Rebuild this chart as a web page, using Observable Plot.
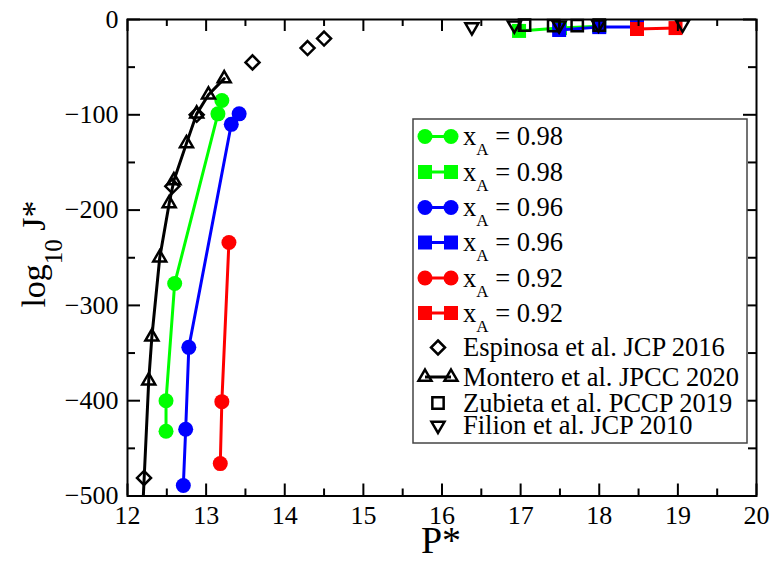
<!DOCTYPE html>
<html><head><meta charset="utf-8">
<script src="https://cdn.jsdelivr.net/npm/d3@7"></script>
<script src="https://cdn.jsdelivr.net/npm/@observablehq/plot@0.6"></script>
<style>body{margin:0;background:#fff} svg text, svg tspan{font-family:"Liberation Serif","Times New Roman",serif !important;}</style>
</head><body><div id="chart"></div>
<script>
// ---- data ----
const g98cP = [12.49, 12.49, 12.60, 13.15, 13.20];
const g98cJ = [-432, -400, -277, -99, -85];
const g98sP = [16.98, 17.50, 18.00];
const g98sJ = [-12, -9, -7];
const b96cP = [12.71, 12.74, 12.78, 13.32, 13.42];
const b96cJ = [-489, -430, -344, -110, -99];
const b96sP = [17.49, 18.00, 18.48];
const b96sJ = [-11, -8, -8];
const r92cP = [13.18, 13.20, 13.29];
const r92cJ = [-466, -401, -234];
const r92sP = [18.48, 18.97];
const r92sJ = [-10, -9];
const espP = [12.21, 12.57, 12.88, 13.59, 14.29, 14.50];
const espJ = [-481, -175, -100, -45, -30, -20];
const monP = [12.19, 12.27, 12.31, 12.41, 12.53, 12.59, 12.75, 12.88, 13.03, 13.23];
const monJ = [-520, -379, -333, -250, -193, -169, -130, -99, -79, -62];
const zubP = [17.05, 17.42, 17.72, 18.00];
const zubJ = [-6, -6.5, -6.5, -6];
const filP = [16.38, 16.92, 17.49, 17.99, 19.06];
const filJ = [-8, -6, -6, -5, -5];

const xMajor = [12, 13, 14, 15, 16, 17, 18, 19, 20];
const xMinor = [12.5, 13.5, 14.5, 15.5, 16.5, 17.5, 18.5, 19.5];
const yMajor = [0, -100, -200, -300, -400, -500];
const yMinor = [-50, -150, -250, -350, -450];

const legendLabels = ["0.98", "0.98", "0.96", "0.96", "0.92", "0.92"];
const refLabels = ["Espinosa et al. JCP 2016", "Montero et al. JPCC 2020", "Zubieta et al. PCCP 2019", "Filion et al. JCP 2010"];

// ---- helpers ----
const zip = (P, J) => P.map((p, i) => ({P: p, J: J[i]}));
const GREEN = "#00ff00", BLUE = "#0000ff", RED = "#ff0000";
const triDown = {draw(ctx, size) {
  const s = Math.sqrt(size) * 0.6824, t = s / 2, u = s * Math.sqrt(3) / 2;
  ctx.moveTo(0, s); ctx.lineTo(u, -t); ctx.lineTo(-u, -t); ctx.closePath();
}};

const W = 773, H = 561, ml = 127, mr = 17, mt = 19, mb = 65.5;
const fw = W - ml - mr, fh = H - mt - mb;
const FONT = "Liberation Serif, Times New Roman, serif";

const rC = 7.5, rS = 7.9, rD = 6.3, rT = 6.2, rO = 7.2;

function series(P, J, color, symbol, r, clip) {
  const d = zip(P, J);
  return [
    Plot.line(d, {x: "P", y: "J", stroke: color, strokeWidth: 3, clip}),
    Plot.dot(d, {x: "P", y: "J", fill: color, symbol, r, clip})
  ];
}

const chart = Plot.plot({
  width: W, height: H,
  marginLeft: ml, marginRight: mr, marginTop: mt, marginBottom: mb,
  style: {fontFamily: FONT, background: "#fff", overflow: "visible"},
  x: {domain: [12, 20]},
  y: {domain: [-500, 0]},
  marks: [
    ...series(g98cP, g98cJ, GREEN, "circle", rC),
    ...series(g98sP, g98sJ, GREEN, "square", rS),
    ...series(b96cP, b96cJ, BLUE, "circle", rC),
    ...series(b96sP, b96sJ, BLUE, "square", rS),
    ...series(r92cP, r92cJ, RED, "circle", rC),
    ...series(r92sP, r92sJ, RED, "square", rS),
    Plot.dot(zip(espP, espJ), {x: "P", y: "J", symbol: "diamond2", r: rD, stroke: "#000", strokeWidth: 2.5, fill: "none"}),
    Plot.line(zip(monP, monJ), {x: "P", y: "J", stroke: "#000", strokeWidth: 3, clip: true}),
    Plot.dot(zip(monP, monJ), {x: "P", y: "J", symbol: "triangle2", r: rT, stroke: "#000", strokeWidth: 2.5, fill: "none", clip: true}),
    Plot.dot(zip(zubP, zubJ), {x: "P", y: "J", symbol: "square2", r: rO, stroke: "#000", strokeWidth: 2.5, fill: "none"}),
    Plot.dot(zip(filP, filJ), {x: "P", y: "J", symbol: triDown, r: rT, stroke: "#000", strokeWidth: 2.5, fill: "none"}),
    // ticks (inward)
    Plot.tickX(xMajor, {x: d => d, insetTop: fh - 12, strokeWidth: 2}),
    Plot.tickX(xMajor, {x: d => d, insetBottom: fh - 12, strokeWidth: 2}),
    Plot.tickX(xMinor, {x: d => d, insetTop: fh - 7, strokeWidth: 2}),
    Plot.tickX(xMinor, {x: d => d, insetBottom: fh - 7, strokeWidth: 2}),
    Plot.tickY(yMajor, {y: d => d, insetRight: fw - 13, strokeWidth: 2}),
    Plot.tickY(yMajor, {y: d => d, insetLeft: fw - 13, strokeWidth: 2}),
    Plot.tickY(yMinor, {y: d => d, insetRight: fw - 8, strokeWidth: 2}),
    Plot.tickY(yMinor, {y: d => d, insetLeft: fw - 8, strokeWidth: 2}),
    Plot.axisX(xMajor, {tickSize: 0, tickPadding: 10, fontSize: 26, label: null, fill: "#000"}),
    Plot.axisY(yMajor, {tickSize: 0, tickPadding: 9, fontSize: 26, label: null, fill: "#000"}),
    Plot.frame({stroke: "#000", strokeWidth: 2})
  ]
});

document.getElementById("chart").appendChild(chart);

const svg = d3.select(chart);

// ---- axis titles and legend ----
svg.append("text").attr("x", 441).attr("y", 553).attr("text-anchor", "middle")
  .attr("font-size", 38).text("P*");
const yl = svg.append("text").attr("transform", "translate(45,254) rotate(-90)")
  .attr("text-anchor", "middle").attr("font-size", 34);
yl.append("tspan").text("log");
yl.append("tspan").attr("font-size", 25).attr("dy", 17).text("10");
yl.append("tspan").attr("dy", -17).text(" J*");

const lg = svg.append("g").attr("text-anchor", "start");
lg.append("rect").attr("x", 413).attr("y", 119).attr("width", 334).attr("height", 324)
  .attr("fill", "#fff").attr("stroke", "#444").attr("stroke-width", 1.5);

const rowY = [136.5, 172, 207.5, 242.5, 278, 313];
const rowColors = [GREEN, GREEN, BLUE, BLUE, RED, RED];
const rowSym = ["circle", "square", "circle", "square", "circle", "square"];
const symSize = r => Math.PI * r * r;
legendLabels.forEach((lab, i) => {
  const y = rowY[i], c = rowColors[i];
  const t = rowSym[i] === "circle" ? d3.symbolCircle : d3.symbolSquare;
  const r = rowSym[i] === "circle" ? rC : rS;
  lg.append("line").attr("x1", 425).attr("x2", 451).attr("y1", y).attr("y2", y).attr("stroke", c).attr("stroke-width", 3);
  [425, 451].forEach(x => lg.append("path").attr("d", d3.symbol(t, symSize(r))()).attr("transform", `translate(${x},${y})`).attr("fill", c));
  const tx = lg.append("text").attr("x", 463).attr("y", y + 8.5).attr("font-size", 26.5).attr("text-anchor", "start");
  tx.append("tspan").text("x");
  tx.append("tspan").attr("font-size", 17).attr("dy", 10).text("A");
  tx.append("tspan").attr("dy", -10).text(" = " + lab);
});

const refY = [347.5, 377, 403, 425.5];
// Espinosa
lg.append("path").attr("d", d3.symbol(d3.symbolDiamond2, symSize(rD))()).attr("transform", `translate(438,${refY[0]})`)
  .attr("fill", "none").attr("stroke", "#000").attr("stroke-width", 2.5);
// Montero
lg.append("line").attr("x1", 425).attr("x2", 451).attr("y1", refY[1]).attr("y2", refY[1]).attr("stroke", "#000").attr("stroke-width", 3);
[425, 451].forEach(x => lg.append("path").attr("d", d3.symbol(d3.symbolTriangle2, symSize(rT))()).attr("transform", `translate(${x},${refY[1]})`)
  .attr("fill", "none").attr("stroke", "#000").attr("stroke-width", 2.5));
// Zubieta
lg.append("path").attr("d", d3.symbol(d3.symbolSquare2, symSize(rO))()).attr("transform", `translate(438,${refY[2]})`)
  .attr("fill", "none").attr("stroke", "#000").attr("stroke-width", 2.5);
// Filion
lg.append("path").attr("d", d3.symbol(triDown, symSize(rT))()).attr("transform", `translate(438,${refY[3]})`)
  .attr("fill", "none").attr("stroke", "#000").attr("stroke-width", 2.5);
refLabels.forEach((lab, i) => {
  lg.append("text").attr("x", 463).attr("y", refY[i] + 8.5).attr("font-size", 26.5).attr("text-anchor", "start").text(lab);
});
</script>
</body></html>
